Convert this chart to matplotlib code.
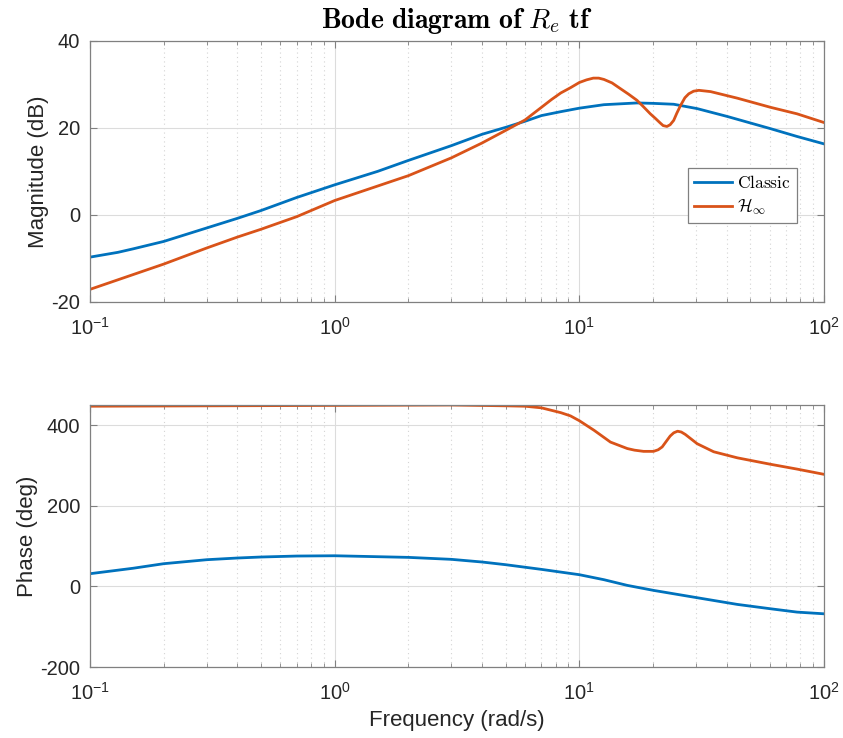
import matplotlib
matplotlib.use("Agg")
import matplotlib.pyplot as plt
from matplotlib.font_manager import FontProperties
from matplotlib.ticker import LogLocator, NullFormatter

plt.rcParams['font.family'] = ['Liberation Sans', 'DejaVu Sans']
plt.rcParams['axes.unicode_minus'] = False
plt.rcParams['mathtext.fontset'] = 'custom'
plt.rcParams['mathtext.rm'] = 'Liberation Sans'

# magnitude (dB) of both controllers
f_mag_classic = [0.1, 0.13, 0.15, 0.2, 0.3, 0.4, 0.5, 0.7, 1.0, 1.5, 2, 3, 4, 5, 6, 7,
                 8.4, 10, 12.6, 17.2, 20.1, 24.3, 30.3, 40.2, 50, 60.4, 77.6, 100]
mag_classic = [-9.7, -8.6, -7.8, -6.1, -3.0, -0.8, 1.0, 4.0, 6.9, 10.0, 12.5, 15.9, 18.5,
               20.1, 21.5, 22.8, 23.7, 24.5, 25.3, 25.7, 25.6, 25.4, 24.4, 22.6, 21.1,
               19.8, 18.0, 16.3]

f_mag_hinf = [0.1, 0.2, 0.3, 0.4, 0.5, 0.7, 1, 2, 3, 4, 5, 6, 7, 7.7, 8.4, 9.2, 10,
              10.7, 11.4, 12.0, 12.6, 13.6, 14.7, 15.9, 17.2, 18.3, 19.5, 20.5, 21.4,
              22.0, 22.8, 23.5, 24.3, 25.0, 25.9, 27.0, 28, 29.3, 30.8, 34.4, 44.2,
              60.4, 77.6, 100]
mag_hinf = [-17.1, -11.3, -7.6, -5.1, -3.3, -0.4, 3.3, 9.0, 13.1, 16.5, 19.4, 21.8,
            24.7, 26.5, 28.0, 29.2, 30.4, 31.0, 31.4, 31.4, 31.1, 30.3, 29.0, 27.7,
            26.3, 24.8, 23.2, 22.1, 21.1, 20.5, 20.3, 20.7, 21.7, 23.3, 25.1, 26.9,
            27.8, 28.4, 28.6, 28.3, 26.8, 24.7, 23.2, 21.2]

# phase (deg)
f_ph_classic = [0.1, 0.15, 0.2, 0.3, 0.4, 0.5, 0.7, 1, 2, 3, 4, 5, 7, 10, 12.6, 15.7,
                20.1, 30.3, 44.2, 60.4, 77.6, 100]
ph_classic = [31.5, 45, 56.3, 66.2, 70.4, 72.9, 75.3, 76, 72.0, 67.1, 60.5, 53.8, 42.2,
              29, 16.6, 2.5, -9.9, -28.1, -44.7, -55.5, -63.8, -68]

f_ph_hinf = [0.1, 1, 3, 5, 6, 7, 8.4, 9.2, 10, 11.5, 13.4, 15.7, 16.8, 18.3, 20.1, 21.0,
             21.8, 22.6, 23.5, 24.3, 25.2, 26.1, 27.1, 30.3, 35.4, 44.2, 60.4, 77.6, 100]
ph_hinf = [447, 449, 450, 448, 447, 443, 431, 423, 411, 387, 358, 342, 338, 335, 335,
           339, 346, 359, 373, 381, 385, 383, 377, 354, 334, 319, 303, 291, 278]

blue = '#0072BD'
orange = '#D95319'

fig = plt.figure(figsize=(8.43, 7.38), dpi=100)
ax_mag = fig.add_axes([0.1068, 0.5908, 0.8707, 0.3541])
ax_ph = fig.add_axes([0.1068, 0.0962, 0.8707, 0.355])

ax_mag.plot(f_mag_classic, mag_classic, color=blue, lw=2, label=r'$\mathrm{Classic}$')
ax_mag.plot(f_mag_hinf, mag_hinf, color=orange, lw=2, label=r'$\mathcal{H}_\infty$')
ax_ph.plot(f_ph_classic, ph_classic, color=blue, lw=2)
ax_ph.plot(f_ph_hinf, ph_hinf, color=orange, lw=2)

for ax in (ax_mag, ax_ph):
    ax.set_xscale('log')
    ax.set_xlim(0.1, 100)
    ax.xaxis.set_minor_locator(LogLocator(base=10, subs=range(2, 10)))
    ax.xaxis.set_minor_formatter(NullFormatter())
    ax.grid(True, which='major', color='#dcdcdc', lw=0.8, ls='-')
    ax.grid(True, which='minor', axis='x', color='#d4d4d4', lw=0.8, ls=(0, (1, 3)))
    ax.set_axisbelow(True)
    ax.tick_params(which='both', direction='in', top=True, right=True,
                   labelsize=14.5, colors='#262626')
    ax.tick_params(which='major', length=5, color='#808080')
    ax.tick_params(which='minor', length=3, color='#808080')
    ax.tick_params(axis='x', which='major', pad=11)
    ax.tick_params(axis='y', which='major', pad=7)
    for s in ax.spines.values():
        s.set_color('#808080')
        s.set_linewidth(0.9)

ax_mag.set_ylim(-20, 40)
ax_mag.set_yticks([-20, 0, 20, 40])
ax_mag.set_ylabel('Magnitude (dB)', fontsize=16, color='#262626', labelpad=2)

ax_ph.set_ylim(-200, 450)
ax_ph.set_yticks([-200, 0, 200, 400])
ax_ph.set_ylabel('Phase (deg)', fontsize=16, color='#262626', labelpad=2)
ax_ph.set_xlabel('Frequency (rad/s)', fontsize=16, color='#262626', labelpad=4)

ax_mag.set_title(r'$\mathbf{Bode\ diagram\ of}\ R_e\ \mathbf{tf}$', fontsize=20,
                 math_fontfamily='cm', pad=9)

leg_font = FontProperties(size=12.5, math_fontfamily='cm')
leg = ax_mag.legend(loc='upper right', bbox_to_anchor=(0.963, 0.513), borderaxespad=0,
                    prop=leg_font, fancybox=False, framealpha=1, handlelength=2.2,
                    handletextpad=0.3, borderpad=0.35, labelspacing=0.3)
leg.get_frame().set_edgecolor('#808080')
leg.get_frame().set_linewidth(0.9)

plt.savefig('out.png', dpi=100)
